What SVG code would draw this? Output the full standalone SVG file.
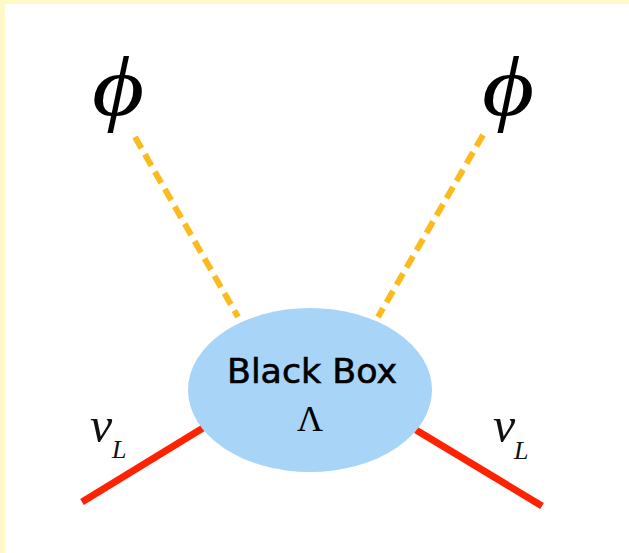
<svg xmlns="http://www.w3.org/2000/svg" width="629" height="553" viewBox="0 0 629 553">
<style>
.dash{stroke:#FBBA1E;stroke-width:6;stroke-dasharray:13,7;fill:none}
.nu{stroke:#FF2200;stroke-width:7;fill:none}
.phi{font-family:"Liberation Serif","DejaVu Serif",serif;font-style:italic;font-size:84px;fill:#000}
.gr{font-family:"Liberation Serif",serif;font-style:italic;fill:#111}
.lbl{font-family:"DejaVu Sans","Liberation Sans",sans-serif;font-size:34px;fill:#000;stroke:#000;stroke-width:0.6}
</style>
<rect x="0" y="0" width="629" height="553" fill="#FFFFFF"/>
<rect x="0" y="0" width="629" height="4" fill="#FFF9C8"/>
<rect x="0" y="0" width="5" height="553" fill="#FFF9C8"/>
<g id="connectors">
<line class="dash" x1="135" y1="137" x2="238" y2="317"/>
<line class="dash" x1="483" y1="135" x2="378" y2="317"/>
<line class="nu" x1="82" y1="502" x2="203" y2="428"/>
<line class="nu" x1="416" y1="430" x2="542" y2="506"/>
</g>
<g id="blackbox">
<ellipse cx="310" cy="390" rx="122" ry="82" fill="#A8D4F8"/>
<text class="lbl" x="312" y="383" text-anchor="middle" textLength="170" lengthAdjust="spacingAndGlyphs">Black Box</text>
<text x="310" y="431" text-anchor="middle" font-family="Liberation Serif,serif" font-size="36" fill="#000">Λ</text>
</g>
<g id="phi-left"><text class="phi" x="0" y="115" text-anchor="middle" transform="translate(118,0) scale(1.2,1)">ϕ</text></g>
<g id="phi-right"><text class="phi" x="0" y="115" text-anchor="middle" transform="translate(508,0) scale(1.2,1)">ϕ</text></g>
<g id="nuL-left"><text class="gr" x="90" y="442" font-size="50">ν</text><text class="gr" x="112" y="458" font-size="26">L</text></g>
<g id="nuL-right"><text class="gr" x="493" y="442" font-size="50">ν</text><text class="gr" x="514" y="459" font-size="26">L</text></g>
</svg>
